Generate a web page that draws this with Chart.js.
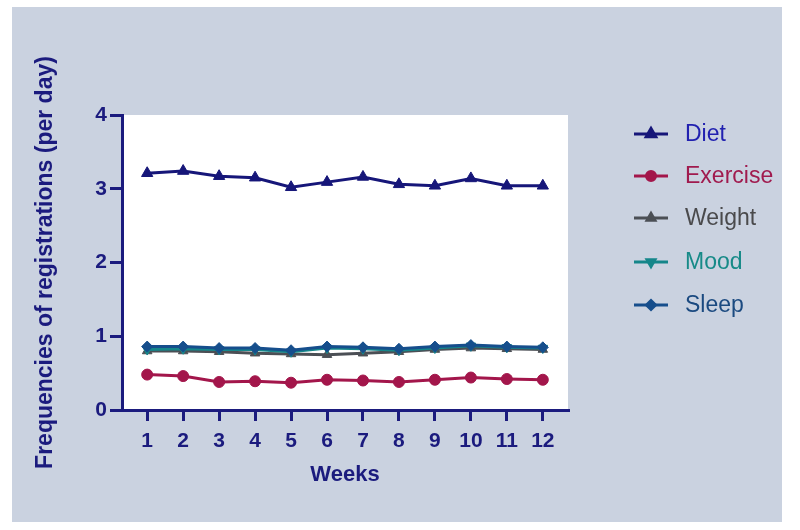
<!DOCTYPE html>
<html>
<head>
<meta charset="utf-8">
<script src="https://cdn.jsdelivr.net/npm/chart.js@4.4.0/dist/chart.umd.min.js"></script>
<style>
  html, body { margin: 0; padding: 0; background: #ffffff; }
  #ctx { display: block; }
</style>
</head>
<body>
<canvas id="ctx" width="800" height="530"></canvas>
<script>
// week numbers on the x axis
const weeks = [1, 2, 3, 4, 5, 6, 7, 8, 9, 10, 11, 12];
const yTicks = [0, 1, 2, 3, 4];

// registrations per day
const diet     = [3.21, 3.24, 3.17, 3.15, 3.02, 3.09, 3.16, 3.06, 3.04, 3.14, 3.04, 3.04];
const exercise = [0.48, 0.46, 0.38, 0.39, 0.37, 0.41, 0.40, 0.38, 0.41, 0.44, 0.42, 0.41];
const weight   = [0.80, 0.80, 0.79, 0.77, 0.76, 0.75, 0.77, 0.79, 0.82, 0.84, 0.83, 0.82];
const mood     = [0.82, 0.83, 0.82, 0.82, 0.79, 0.84, 0.83, 0.81, 0.84, 0.87, 0.85, 0.84];
const sleep    = [0.86, 0.86, 0.84, 0.84, 0.81, 0.86, 0.85, 0.83, 0.86, 0.88, 0.86, 0.85];

const navy = "#1b1b7e";
const fam = "'Liberation Sans', Arial, sans-serif";

const serie = (label, values, color, textColor, style, radius, rot, order) => ({
  label: label,
  data: weeks.map((w, i) => ({ x: w, y: values[i] })),
  borderColor: color,
  backgroundColor: color,
  borderWidth: 3,
  pointStyle: style,
  pointRadius: radius,
  pointHoverRadius: radius,
  pointRotation: rot,
  pointBorderWidth: 1,
  textColor: textColor,
  order: order,
});

// fondo gris azulado + area blanca
const fondo = {
  id: "fondo",
  beforeDraw(chart) {
    const c = chart.ctx;
    const a = chart.chartArea;
    c.save();
    c.fillStyle = "#ffffff";
    c.fillRect(0, 0, chart.width, chart.height);
    c.fillStyle = "#cad2e0";
    c.fillRect(12, 7, 770, 515);
    c.fillStyle = "#ffffff";
    c.fillRect(a.left, a.top, a.right - a.left, a.bottom - a.top);
    c.restore();
  },
};

// leyenda con linea + marcador
const leyenda = {
  id: "leyenda",
  afterDraw(chart) {
    const c = chart.ctx;
    const rows = [134, 176, 218, 262, 305];
    c.save();
    chart.data.datasets.forEach((ds, i) => {
      const y = rows[i];
      c.strokeStyle = ds.borderColor;
      c.lineWidth = 3;
      c.beginPath();
      c.moveTo(634, y);
      c.lineTo(668, y);
      c.stroke();
      c.fillStyle = ds.backgroundColor;
      Chart.helpers.drawPoint(c, {
        pointStyle: ds.pointStyle,
        radius: ds.pointRadius - 1,
        rotation: ds.pointRotation,
        borderWidth: 1,
      }, 651, y);
      c.fillStyle = ds.textColor;
      c.font = "23px " + fam;
      c.textBaseline = "middle";
      c.textAlign = "left";
      c.fillText(ds.label, 685, y + 1);
    });
    c.restore();
  },
};

const pintarGrafica = () => {
  new Chart(document.getElementById("ctx"), {
    type: "line",
    data: {
      datasets: [
        serie("Diet", diet, "#161679", "#2121b0", "triangle", 6.5, 0, 4),
        serie("Exercise", exercise, "#a3164b", "#a01a4e", "circle", 5.5, 0, 3),
        serie("Weight", weight, "#4b4f55", "#4a4a4c", "triangle", 5.5, 0, 2),
        serie("Mood", mood, "#15868a", "#178a88", "triangle", 5.5, 180, 1),
        serie("Sleep", sleep, "#164e8c", "#1b4a80", "rectRot", 5.5, 0, 0),
      ],
    },
    options: {
      responsive: false,
      animation: false,
      layout: { padding: { left: 14, top: 115, right: 232, bottom: 30 } },
      plugins: { legend: { display: false }, tooltip: { enabled: false } },
      scales: {
        x: {
          type: "linear",
          min: 0.3,
          max: 12.7,
          afterBuildTicks: (s) => { s.ticks = weeks.map((w) => ({ value: w })); },
          afterFit: (s) => { s.height = 90; },
          border: { display: true, color: navy, width: 3 },
          grid: { drawOnChartArea: false, drawTicks: true, tickLength: 11, color: navy, lineWidth: 3 },
          ticks: {
            color: navy,
            padding: 8,
            maxRotation: 0,
            autoSkip: false,
            font: { family: fam, size: 21, weight: "bold" },
          },
          title: {
            display: true,
            text: "Weeks",
            color: navy,
            padding: { top: 0, bottom: 12 },
            font: { family: fam, size: 22, weight: "bold" },
          },
        },
        y: {
          min: 0,
          max: 4,
          afterBuildTicks: (s) => { s.ticks = yTicks.map((v) => ({ value: v })); },
          afterFit: (s) => { s.width = 108; },
          border: { display: true, color: navy, width: 3 },
          grid: { drawOnChartArea: false, drawTicks: true, tickLength: 12, color: navy, lineWidth: 3 },
          ticks: {
            color: navy,
            padding: 3,
            font: { family: fam, size: 21, weight: "bold" },
          },
          title: {
            display: true,
            text: "Frequencies of registrations (per day)",
            color: navy,
            padding: { top: 18, bottom: 0 },
            font: { family: fam, size: 23, weight: "bold" },
          },
        },
      },
    },
    plugins: [fondo, leyenda],
  });
};

window.addEventListener("load", pintarGrafica);
</script>
</body>
</html>
